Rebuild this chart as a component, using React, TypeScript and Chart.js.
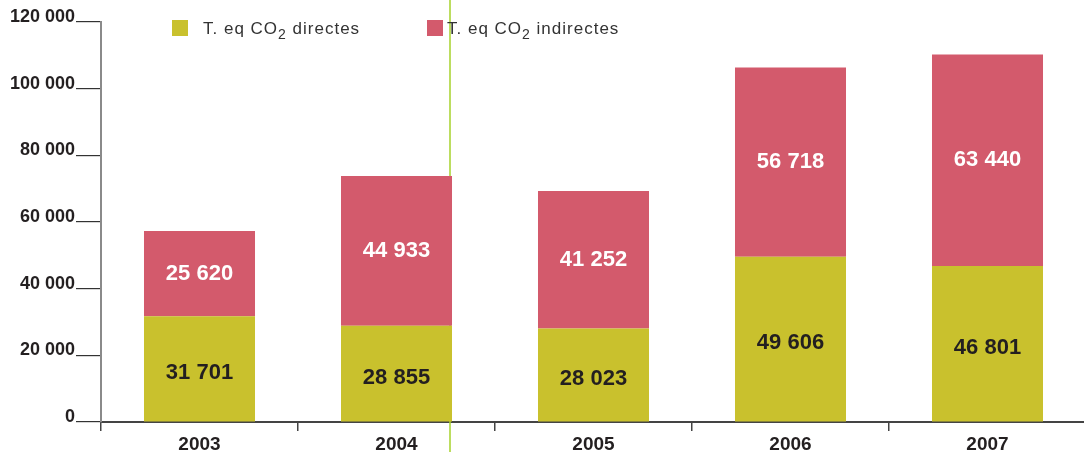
import React, { useEffect, useRef } from "react";
import { Chart, registerables } from "chart.js";

Chart.register(...registerables);

const categories = ["2003", "2004", "2005", "2006", "2007"];
const directValues = [31701, 28855, 28023, 49606, 46801];
const indirectValues = [25620, 44933, 41252, 56718, 63440];
const seriesNames = ["directes", "indirectes"];
const yTicks = [0, 20000, 40000, 60000, 80000, 100000, 120000];

const GREEN = "#c9c12d";
const RED = "#d35a6c";
const DARK = "#231f20";
const FONT = "'Liberation Sans', Arial, sans-serif";

const fmt = (v: number) => {
  const s = Math.round(v).toString();
  return s.replace(/\B(?=(\d{3})+(?!\d))/g, " ");
};

const labelsPlugin = {
  id: "barLabels",
  afterDatasetsDraw(chart: any) {
    const ctx = chart.ctx;
    ctx.save();
    ctx.font = `bold 22px ${FONT}`;
    ctx.textAlign = "center";
    ctx.textBaseline = "middle";
    chart.data.datasets.forEach((ds: any, di: number) => {
      const meta = chart.getDatasetMeta(di);
      meta.data.forEach((bar: any, i: number) => {
        const cy = (bar.y + bar.base) / 2 + (di === 0 ? 4 : 0);
        ctx.fillStyle = di === 0 ? DARK : "#ffffff";
        ctx.fillText(fmt(ds.data[i]), bar.x, cy);
      });
    });
    ctx.restore();
  },
};

const lineBehindPlugin = {
  id: "lineBehind",
  beforeDatasetsDraw(chart: any) {
    const ctx = chart.ctx;
    ctx.save();
    ctx.strokeStyle = "#a6d22b";
    ctx.lineWidth = 1.5;
    ctx.beginPath();
    ctx.moveTo(450, 0);
    ctx.lineTo(450, 452);
    ctx.stroke();
    ctx.restore();
  },
};

const legendPlugin = {
  id: "customLegend",
  afterDraw(chart: any) {
    const ctx = chart.ctx;
    ctx.save();
    const items = [
      { color: GREEN, x: 172, tx: 203, name: seriesNames[0] },
      { color: RED, x: 427, tx: 447, name: seriesNames[1] },
    ];
    items.forEach((it) => {
      ctx.fillStyle = it.color;
      ctx.fillRect(it.x, 20, 16, 16);
      let tx = it.tx;
      const base = 34;
      ctx.fillStyle = "#333333";
      ctx.textBaseline = "alphabetic";
      ctx.textAlign = "left";
      try {
        (ctx as any).letterSpacing = "1px";
      } catch (e) {}
      ctx.font = `17px ${FONT}`;
      ctx.fillText("T. eq CO", tx, base);
      tx += ctx.measureText("T. eq CO").width;
      ctx.font = `14px ${FONT}`;
      ctx.fillText("2", tx, base + 5);
      tx += ctx.measureText("2").width;
      ctx.font = `17px ${FONT}`;
      ctx.fillText(" " + it.name, tx, base);
    });
    ctx.restore();
  },
};

export default function App() {
  const ref = useRef<HTMLCanvasElement | null>(null);
  useEffect(() => {
    if (!ref.current) return;
    const chart = new Chart(ref.current, {
      type: "bar",
      data: {
        labels: categories,
        datasets: [
          {
            label: "T. eq CO2 " + seriesNames[0],
            data: directValues,
            backgroundColor: GREEN,
            barPercentage: 0.5635,
            categoryPercentage: 1,
          },
          {
            label: "T. eq CO2 " + seriesNames[1],
            data: indirectValues,
            backgroundColor: RED,
            barPercentage: 0.5635,
            categoryPercentage: 1,
          },
        ],
      },
      options: {
        responsive: false,
        animation: false,
        layout: { padding: { top: 22, right: 0, bottom: 0, left: 0 } },
        plugins: { legend: { display: false }, tooltip: { enabled: false } },
        scales: {
          x: {
            stacked: true,
            grid: {
              display: true,
              drawOnChartArea: false,
              offset: true,
              tickLength: 9,
              color: "#444444",
              lineWidth: 1.5,
            },
            border: { color: "#444444", width: 2 },
            ticks: {
              color: DARK,
              font: { family: FONT, size: 19, weight: "bold" },
              padding: 2,
            },
            afterFit: (scale: any) => {
              scale.height = 30;
            },
          },
          y: {
            stacked: true,
            min: 0,
            max: 120000,
            afterBuildTicks: (scale: any) => {
              scale.ticks = yTicks.map((v) => ({ value: v }));
            },
            grid: {
              display: true,
              drawOnChartArea: false,
              tickLength: 25,
              color: "#333333",
              lineWidth: 1.2,
            },
            border: { color: "#8a8a8a", width: 2 },
            ticks: {
              color: DARK,
              font: { family: FONT, size: 18, weight: "bold" },
              padding: 1,
              labelOffset: -5,
              callback: (v: any) => fmt(Number(v)),
            },
            afterFit: (scale: any) => {
              scale.width = 101;
            },
          },
        },
      },
      plugins: [lineBehindPlugin, labelsPlugin, legendPlugin],
    });
    return () => chart.destroy();
  }, []);
  return (
    <div
      style={{
        position: "absolute",
        left: 0,
        top: 0,
        width: 1084,
        height: 452,
        overflow: "hidden",
        background: "#ffffff",
      }}
    >
      <canvas ref={ref} width={1086} height={452} style={{ display: "block" }} />
    </div>
  );
}
